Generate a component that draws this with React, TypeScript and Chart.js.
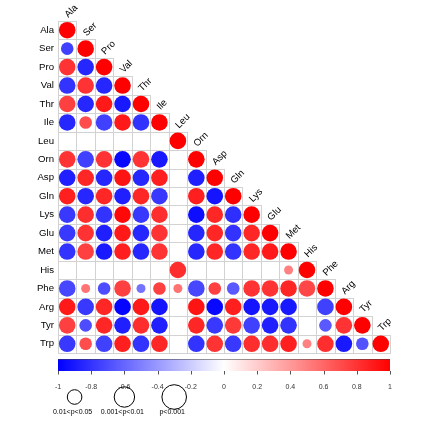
import React, { useEffect, useRef } from "react";
import { Chart, registerables } from "chart.js";

Chart.register(...registerables);

const aminoAcids = ["Ala", "Ser", "Pro", "Val", "Thr", "Ile", "Leu", "Orn", "Asp", "Gln", "Lys", "Glu", "Met", "His", "Phe", "Arg", "Tyr", "Trp"];

// lower-triangle correlation coefficients (values left of the diagonal)
const corrRows: number[][] = [
  [],
  [-0.75],
  [0.8, -0.85],
  [-0.8, 0.8, -0.85],
  [0.75, -0.85, 0.9, -0.9],
  [-0.85, 0.7, -0.75, 0.9, -0.8],
  [0, 0, 0, 0, 0, 0],
  [0.8, -0.75, 0.8, -0.97, 0.8, -0.9, 0],
  [-0.88, 0.85, -0.85, 0.92, -0.85, 0.88, 0, -0.88],
  [0.88, -0.85, 0.85, -0.88, 0.85, -0.78, 0, 0.88, -0.92],
  [-0.78, 0.82, -0.8, 0.97, -0.78, 0.82, 0, -0.95, 0.85, -0.82],
  [-0.78, 0.8, -0.88, 0.9, -0.85, 0.8, 0, -0.85, 0.85, -0.8, 0.85],
  [-0.8, 0.75, -0.9, 0.88, -0.85, 0.8, 0, -0.85, 0.85, -0.8, 0.85, 0.9],
  [0, 0, 0, 0, 0, 0, 0.82, 0, 0, 0, 0, 0, 0.5],
  [-0.72, 0.55, -0.7, 0.75, -0.55, 0.75, 0.55, -0.72, 0.75, -0.65, 0.8, 0.8, 0.85, 0.72],
  [0.9, -0.78, 0.85, -0.98, 0.9, -0.92, 0, 0.92, -0.97, 0.88, -0.92, -0.9, -0.9, 0, -0.75],
  [0.75, -0.7, 0.85, -0.88, 0.82, -0.88, 0, 0.85, -0.78, 0.78, -0.75, -0.88, -0.8, 0, -0.65, 0.8],
  [-0.78, 0.7, -0.75, 0.88, -0.8, 0.85, 0, -0.8, 0.8, -0.78, 0.82, 0.82, 0.88, 0.5, 0.82, -0.9, -0.68],
];

// significance class: 0 = n.s., 1 = 0.01<p<0.05, 2 = 0.001<p<0.01, 3 = p<0.001
const sigRows: number[][] = [
  [],
  [2],
  [3, 3],
  [3, 3, 3],
  [3, 3, 3, 3],
  [3, 2, 3, 3, 3],
  [0, 0, 0, 0, 0, 0],
  [3, 3, 3, 3, 3, 3, 0],
  [3, 3, 3, 3, 3, 3, 0, 3],
  [3, 3, 3, 3, 3, 3, 0, 3, 3],
  [3, 3, 3, 3, 3, 3, 0, 3, 3, 3],
  [3, 3, 3, 3, 3, 3, 0, 3, 3, 3, 3],
  [3, 3, 3, 3, 3, 3, 0, 3, 3, 3, 3, 3],
  [0, 0, 0, 0, 0, 0, 3, 0, 0, 0, 0, 0, 1],
  [3, 1, 2, 3, 1, 2, 1, 3, 2, 2, 3, 3, 3, 3],
  [3, 3, 3, 3, 3, 3, 0, 3, 3, 3, 3, 3, 3, 0, 3],
  [3, 2, 3, 3, 3, 3, 0, 3, 3, 3, 3, 3, 3, 0, 2, 3],
  [3, 2, 3, 3, 3, 3, 0, 3, 3, 3, 3, 3, 3, 1, 3, 3, 2],
];

const legendLabels = ["0.01<p<0.05", "0.001<p<0.01", "p<0.001"];
const legendPositions = [-0.9, -0.6, -0.3];

const FONT = "'Liberation Sans', Arial, Helvetica, sans-serif";
const sizeRadius = [0, 4.5, 6.3, 8.3];
const legendRadius = [7.3, 10.2, 12.3];

function corrColor(v: number): string {
  if (v >= 0) {
    const c = Math.round(255 * (1 - v));
    return `rgb(255,${c},${c})`;
  }
  const c = Math.round(255 * (1 + v));
  return `rgb(${c},${c},255)`;
}

export default function App() {
  const ref = useRef<HTMLCanvasElement>(null);

  useEffect(() => {
    const canvas = ref.current;
    if (!canvas) return;
    const n = aminoAcids.length;
    const points: { x: number; y: number; r: number; v: number }[] = [];
    for (let i = 0; i < n; i++) {
      for (let j = 0; j <= i; j++) {
        const v = j === i ? 1 : corrRows[i][j];
        const s = j === i ? 3 : sigRows[i][j];
        if (!s) continue;
        points.push({ x: j + 0.5, y: i + 0.5, r: sizeRadius[s], v });
      }
    }

    const decor = {
      id: "corrDecor",
      beforeDatasetsDraw(chart: any) {
        const { ctx, scales } = chart;
        const x = scales.x;
        const y = scales.y;
        ctx.save();
        ctx.strokeStyle = "#d2d2d2";
        ctx.lineWidth = 1;
        for (let i = 0; i < n; i++) {
          for (let j = 0; j <= i; j++) {
            const x0 = Math.round(x.getPixelForValue(j)) + 0.5;
            const x1 = Math.round(x.getPixelForValue(j + 1)) + 0.5;
            const y0 = Math.round(y.getPixelForValue(i)) + 0.5;
            const y1 = Math.round(y.getPixelForValue(i + 1)) + 0.5;
            ctx.strokeRect(x0, y0, x1 - x0, y1 - y0);
          }
        }
        ctx.restore();
      },
      afterDraw(chart: any) {
        const { ctx, scales, chartArea } = chart;
        const x = scales.x;
        const y = scales.y;
        const cb = scales.cb;
        ctx.save();
        // diagonal labels
        ctx.fillStyle = "#000";
        ctx.font = `9.6px ${FONT}`;
        ctx.textAlign = "left";
        ctx.textBaseline = "alphabetic";
        for (let i = 0; i < n; i++) {
          const cx = x.getPixelForValue(i + 0.5);
          const top = y.getPixelForValue(i);
          ctx.save();
          ctx.translate(cx + 1, top - 3);
          ctx.rotate(-Math.PI / 4);
          ctx.fillText(aminoAcids[i], 0, 0);
          ctx.restore();
        }
        // colour bar
        const left = cb.getPixelForValue(-1);
        const right = cb.getPixelForValue(1);
        const barTop = chartArea.bottom + 6;
        const barH = 12;
        const grad = ctx.createLinearGradient(left, 0, right, 0);
        grad.addColorStop(0, "rgb(0,0,255)");
        grad.addColorStop(0.5, "rgb(255,255,255)");
        grad.addColorStop(1, "rgb(255,0,0)");
        ctx.fillStyle = grad;
        ctx.fillRect(left, barTop, right - left, barH);
        ctx.strokeStyle = "rgba(60,60,60,0.5)";
        ctx.lineWidth = 1;
        ctx.beginPath();
        ctx.moveTo(left, barTop + 0.5);
        ctx.lineTo(right, barTop + 0.5);
        ctx.stroke();
        // colour bar tick marks
        ctx.strokeStyle = "#555";
        cb.ticks.forEach((t: any) => {
          const px = Math.round(cb.getPixelForValue(t.value)) + 0.5;
          ctx.beginPath();
          ctx.moveTo(px, barTop + barH);
          ctx.lineTo(px, barTop + barH + 3.5);
          ctx.stroke();
        });
        // significance legend
        ctx.strokeStyle = "#000";
        ctx.lineWidth = 1;
        ctx.fillStyle = "#000";
        ctx.font = `7px ${FONT}`;
        ctx.textAlign = "center";
        ctx.textBaseline = "middle";
        legendLabels.forEach((lab, k) => {
          const px = cb.getPixelForValue(legendPositions[k]);
          const r = legendRadius[k];
          ctx.beginPath();
          ctx.arc(px, chartArea.bottom + 44, r, 0, Math.PI * 2);
          ctx.stroke();
          ctx.fillText(lab, px - 2, chartArea.bottom + 59.5);
        });
        ctx.restore();
      },
    };

    const chart = new Chart(canvas, {
      type: "bubble",
      data: {
        datasets: [
          {
            data: points as any,
            xAxisID: "x",
            yAxisID: "y",
            backgroundColor: (c: any) => corrColor(c.raw ? c.raw.v : 0),
            borderWidth: 0,
          },
        ],
      },
      options: {
        responsive: false,
        animation: false,
        devicePixelRatio: 1,
        events: [],
        layout: { padding: { top: 21, right: 32, left: 0, bottom: 0 } },
        plugins: { legend: { display: false }, tooltip: { enabled: false } },
        scales: {
          x: { type: "linear", min: 0, max: 18, display: false },
          y: {
            type: "linear",
            position: "left",
            min: 0,
            max: 18,
            reverse: true,
            grid: { display: false, drawTicks: false },
            border: { display: false },
            afterBuildTicks: (scale: any) => {
              scale.ticks = aminoAcids.map((_, i) => ({ value: i + 0.5 }));
            },
            afterFit: (scale: any) => {
              scale.width = 58;
            },
            ticks: {
              autoSkip: false,
              padding: 4,
              color: "#000",
              font: { family: FONT, size: 9.6 },
              callback: (v: any) => aminoAcids[Math.floor(Number(v))],
            },
          },
          cb: {
            type: "linear",
            axis: "x",
            position: "bottom",
            min: -1,
            max: 1,
            grid: { display: false, drawTicks: false },
            border: { display: false },
            afterFit: (scale: any) => {
              scale.height = 69;
            },
            ticks: {
              stepSize: 0.2,
              autoSkip: false,
              maxRotation: 0,
              padding: 30,
              color: "#333",
              font: { family: FONT, size: 7 },
              callback: (v: any) => String(Math.round(Number(v) * 10) / 10),
            },
          },
        } as any,
      },
      plugins: [decor],
    });
    return () => chart.destroy();
  }, []);

  return (
    <div style={{ position: "fixed", left: 0, top: 0, width: 422, height: 422, background: "#fff" }}>
      <canvas ref={ref} width={422} height={422} style={{ display: "block" }} />
    </div>
  );
}
